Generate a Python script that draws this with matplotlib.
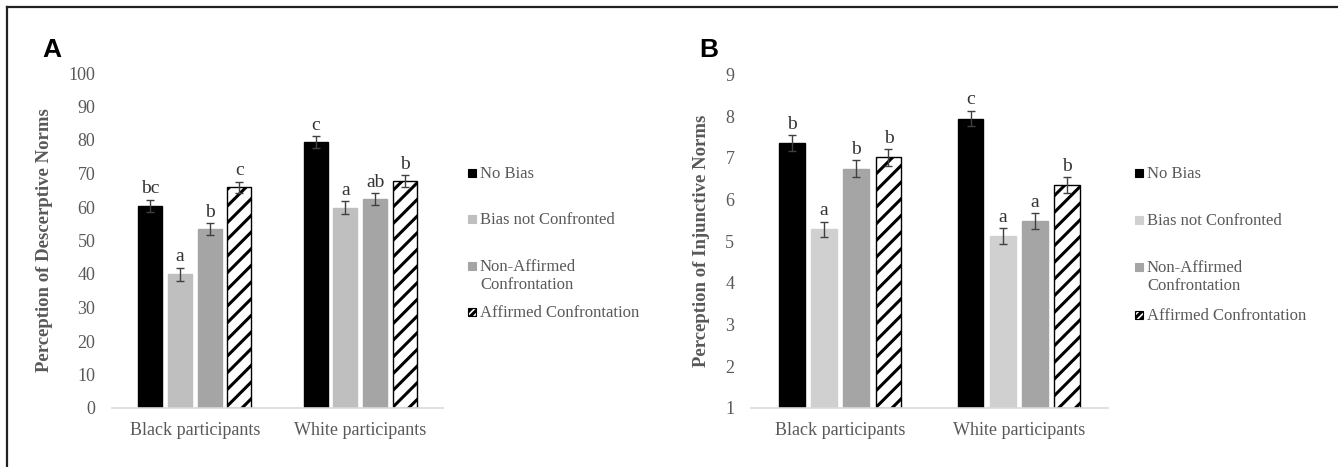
import numpy as np
from matplotlib import pyplot as plt
from matplotlib.lines import Line2D
from matplotlib.patches import Rectangle

# data
groups = ["Black participants", "White participants"]
conditions = ["No Bias", "Bias not Confronted",
              "Non-Affirmed\nConfrontation", "Affirmed Confrontation"]

desc_no_bias = [60.4, 79.3]
desc_not_conf = [39.9, 59.8]
desc_non_aff = [53.3, 62.3]
desc_aff = [65.9, 67.7]
desc_err = [[1.8, 1.8], [2.0, 1.9], [1.8, 1.8], [1.7, 1.8]]
desc_letters = [["bc", "c"], ["a", "a"], ["b", "ab"], ["c", "b"]]

inj_no_bias = [7.35, 7.94]
inj_not_conf = [5.28, 5.12]
inj_non_aff = [6.74, 5.48]
inj_aff = [7.01, 6.35]
inj_err = [[0.2, 0.19], [0.19, 0.19], [0.2, 0.19], [0.2, 0.19]]
inj_letters = [["b", "c"], ["a", "a"], ["b", "a"], ["b", "b"]]

W, H = 1338, 467
GREY_TXT = "#595959"
SERIF = "Liberation Serif"

plt.rcParams["hatch.linewidth"] = 2.2
plt.rcParams["font.family"] = SERIF


def fx(px):
    return px / W


def fy(py):
    return 1 - py / H


def draw_panel(ax, series, errs, letters, colors, base, ylim, yticks, ylabel):
    x = np.arange(len(groups))
    pitch = 0.18
    width = 0.145
    for i, vals in enumerate(series):
        pos = x + (i - 1.5) * pitch
        vals = np.array(vals)
        hatch = "//" if i == 3 else None
        face = "white" if i == 3 else colors[i]
        edge = "black" if i == 3 else colors[i]
        ax.bar(pos, vals - base, width, bottom=base, color=face,
               edgecolor=edge, hatch=hatch, linewidth=1.0, zorder=2)
        ax.errorbar(pos, vals, yerr=errs[i], fmt="none", ecolor="#404040",
                    elinewidth=1.0, capsize=3, capthick=1.0, zorder=3)
        for p, v, e, t in zip(pos, vals, errs[i], letters[i]):
            ax.annotate(t, (p, v + e), xytext=(0, 4.5), textcoords="offset points",
                        ha="center", va="baseline", fontsize=14,
                        color="#333333")
    ax.set_xlim(-0.5, len(groups) - 0.5)
    ax.set_ylim(*ylim)
    ax.set_yticks(yticks)
    ax.set_xticks(x)
    ax.set_xticklabels(groups)
    ax.tick_params(axis="both", length=0, labelsize=13, colors=GREY_TXT)
    ax.tick_params(axis="y", pad=12)
    ax.tick_params(axis="x", pad=10)
    for s in ["top", "right", "left"]:
        ax.spines[s].set_visible(False)
    ax.spines["bottom"].set_color("#d9d9d9")
    ax.spines["bottom"].set_linewidth(1.2)
    ax.set_ylabel(ylabel, fontsize=13.5, fontweight="bold", color=GREY_TXT)


def draw_legend(fig, marker_x, text_x, ys, colors):
    for lab, y, c, i in zip(conditions, ys, colors, range(4)):
        size = 8
        face = "white" if i == 3 else c
        edge = "black" if i == 3 else c
        fig.add_artist(Rectangle((fx(marker_x), fy(y + size / 2)),
                                 size / W, size / H, transform=fig.transFigure,
                                 facecolor=face, edgecolor=edge, linewidth=0.8,
                                 hatch="/////" if i == 3 else None))
        # one text per line so the first line sits beside the marker
        for k, line in enumerate(lab.split("\n")):
            fig.text(fx(text_x), fy(y + 5 + 18 * k), line, fontsize=12,
                     color=GREY_TXT, va="baseline", ha="left")


fig = plt.figure(figsize=(W / 100, H / 100), dpi=100)

colors_a = ["#000000", "#bfbfbf", "#a5a5a5", "white"]
colors_b = ["#000000", "#d0d0d0", "#a5a5a5", "white"]

ax_a = fig.add_axes([fx(112), fy(408), (443 - 112) / W, (408 - 73) / H])
draw_panel(ax_a, [desc_no_bias, desc_not_conf, desc_non_aff, desc_aff],
           desc_err, desc_letters, colors_a, 0, (0, 100), range(0, 101, 10),
           "Perception of Descerptive Norms")
ax_a.yaxis.set_label_coords(-0.178, 0.5)

ax_b = fig.add_axes([fx(751), fy(408), (1108 - 751) / W, (408 - 74.3) / H])
draw_panel(ax_b, [inj_no_bias, inj_not_conf, inj_non_aff, inj_aff],
           inj_err, inj_letters, colors_b, 1, (1, 9), range(1, 10),
           "Perception of Injunctive Norms")
ax_b.yaxis.set_label_coords(-0.115, 0.5)

draw_legend(fig, 468, 480, [173, 219, 266, 312], colors_a)
draw_legend(fig, 1135, 1147, [173, 220, 267, 315], colors_b)

fig.text(fx(42), fy(57), "A", fontsize=19, fontweight="bold",
         family="Liberation Sans", va="baseline")
fig.text(fx(699), fy(57), "B", fontsize=19, fontweight="bold",
         family="Liberation Sans", va="baseline")

# frame line on top and left edge
fig.add_artist(Line2D([fx(7), 1], [fy(7), fy(7)], color="#222222",
                      linewidth=1.6, transform=fig.transFigure))
fig.add_artist(Line2D([fx(7), fx(7)], [fy(7), 0], color="#222222",
                      linewidth=1.6, transform=fig.transFigure))

fig.savefig("out.png", dpi=100)
